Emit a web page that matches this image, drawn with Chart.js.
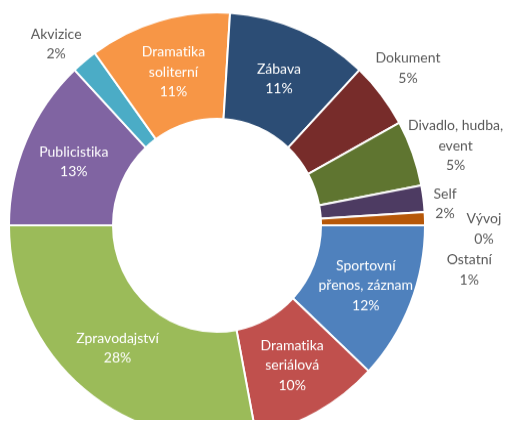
<!DOCTYPE html>
<html>
<head>
<meta charset="utf-8">
<title>Struktura vysílání</title>
<script src="https://cdn.jsdelivr.net/npm/chart.js@4"></script>
<style>
    html, body { margin: 0; padding: 0; background: #fff; overflow: hidden; }
    /* the ring is slightly taller than wide, so stretch the canvas a bit */
    #wrap { width: 507px; height: 420px; transform: scaleY(1.024); transform-origin: 0 0; }
</style>
</head>
<body>
<div id="wrap"><canvas id="donutChart" width="507" height="420"></canvas></div>
<script>
// Categories (label lines) and their shares in percent, clockwise from 3 o'clock
const categories = [
    ['Sportovní', 'přenos, záznam'],
    ['Dramatika', 'seriálová'],
    ['Zpravodajství'],
    ['Publicistika'],
    ['Akvizice'],
    ['Dramatika', 'soliterní'],
    ['Zábava'],
    ['Dokument'],
    ['Divadlo, hudba,', 'event'],
    ['Self'],
    ['Vývoj'],
    ['Ostatní']
];
const shares = [12, 10, 28, 13, 2, 11, 11, 5, 5, 2, 0, 1];
const sliceColors = [
    '#4F81BD', '#C0504D', '#9BBB59', '#8064A2', '#4BACC6', '#F79646',
    '#2C4D75', '#772C2A', '#5F7530', '#4D3B62', '#276A7C', '#B65708'
];

// Draws "name / percent" labels, white inside big slices, grey beside small ones
const sliceLabels = {
    id: 'sliceLabels',
    afterDatasetsDraw(chart, args, opts) {
        const ctx = chart.ctx;
        const meta = chart.getDatasetMeta(0);
        ctx.save();
        ctx.font = opts.font;
        ctx.textRendering = 'optimizeSpeed'; // no "ti" ligature
        ctx.textAlign = 'center';
        ctx.textBaseline = 'middle';
        meta.data.forEach((arc, i) => {
            const p = arc.getProps(['x', 'y', 'startAngle', 'endAngle', 'innerRadius', 'outerRadius'], true);
            let angle = (p.startAngle + p.endAngle) / 2;
            let r = (p.innerRadius + p.outerRadius) / 2;
            const out = opts.outside[i];
            if (out) {
                r = out.r;
                angle += out.shift * Math.PI / 180;
                ctx.fillStyle = opts.outerColor;
            } else {
                r += (opts.inside[i] || 0);
                ctx.fillStyle = opts.innerColor;
            }
            const lines = [...categories[i], shares[i] + '%'];
            const cx = p.x + r * Math.cos(angle);
            const cy = p.y + r * Math.sin(angle);
            const top = cy - (lines.length - 1) * opts.lineHeight / 2;
            lines.forEach((line, k) => ctx.fillText(line, cx, top + k * opts.lineHeight));
        });
        ctx.restore();
    }
};

new Chart(document.getElementById('donutChart'), {
    type: 'doughnut',
    data: {
        labels: categories.map(c => c.join(' ')),
        datasets: [{
            data: shares,
            backgroundColor: sliceColors,
            borderColor: '#ffffff',
            borderWidth: 2,
            hoverOffset: 0
        }]
    },
    options: {
        responsive: false,
        animation: false,
        rotation: 90,
        radius: 208,
        cutout: '50%',
        layout: { padding: { left: 0, right: 73, top: 20, bottom: 0 } },
        plugins: {
            legend: { display: false },
            tooltip: { enabled: false },
            sliceLabels: {
                font: '14px Lato',
                lineHeight: 19.5,
                innerColor: '#ffffff',
                outerColor: '#595959',
                inside: { 0: 4 },
                outside: {
                    4: { r: 239, shift: -2.7 },
                    7: { r: 245, shift: -1 },
                    8: { r: 251, shift: 1.7 },
                    9: { r: 229, shift: 1.9 },
                    10: { r: 267, shift: 4.4 },
                    11: { r: 256, shift: 11.6 }
                }
            }
        }
    },
    plugins: [sliceLabels]
});
</script>
</body>
</html>
